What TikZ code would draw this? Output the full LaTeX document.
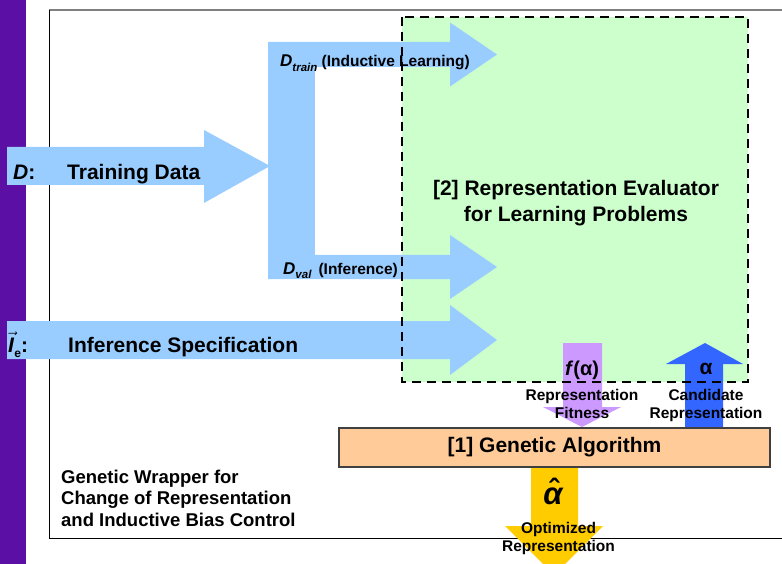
\documentclass[tikz,border=0pt]{standalone}
\usepackage{fontspec}
\setmainfont{Liberation Sans}

\definecolor{sidebar}{HTML}{5B0FA5}
\definecolor{datablue}{HTML}{99CCFF}
\definecolor{evalgreen}{HTML}{CCFFCC}
\definecolor{gapeach}{HTML}{FFCC99}
\definecolor{fitlilac}{HTML}{CC99FF}
\definecolor{candblue}{HTML}{3366FF}
\definecolor{optyellow}{HTML}{FFCC00}
\definecolor{boxedge}{HTML}{404040}

\newcommand{\dsub}[1]{{\fontsize{17}{17}\selectfont\textit{D}}\raisebox{-4.5pt}{\fontsize{11.5}{12}\selectfont\textit{#1}}}

\begin{document}
\begin{tikzpicture}[x=1pt,y=-1pt,
  bigtxt/.style={inner sep=0pt, font=\fontsize{21}{26}\selectfont\bfseries},
  lbltxt/.style={inner sep=0pt, align=center, font=\fontsize{15.5}{18}\selectfont\bfseries},
  wraptxt/.style={inner sep=0pt, align=left, font=\fontsize{18.5}{21.5}\selectfont\bfseries}]

\useasboundingbox (0,0) rectangle (782,564);
\clip (0,0) rectangle (782,564);

\def \headx{450}
\def \tipx{497}

\fill [sidebar] (0,0) rectangle (26,564);

\draw [gray, line width=1.3pt] (49,10) -- (782,10);
\draw [line width=0.9pt] (49,10) -- (49,538) -- (782,538);

\fill [evalgreen] (402,17) rectangle (748,382);

\fill [datablue] (7,147) -- (204,147) -- (204,130) -- (270,166) -- (204,203) -- (204,185) -- (7,185) -- cycle;
\fill [datablue] (268,42) rectangle (315,279);

\foreach \xs/\yc/\hb/\hh in {268/54.5/12.5/32, 268/267/12/32, 7/340/19/35}
{
	\fill [datablue] (\xs,\yc-\hb) -- (\headx,\yc-\hb) -- (\headx,\yc-\hh) -- (\tipx,\yc) -- (\headx,\yc+\hh) -- (\headx,\yc+\hb) -- (\xs,\yc+\hb) -- cycle;
}

\fill [fitlilac] (563,343) -- (602,343) -- (602,407) -- (621,407) -- (582,427) -- (543,407) -- (563,407) -- cycle;
\fill [candblue] (685,428) -- (685,364) -- (666,364) -- (705,343) -- (743,364) -- (723,364) -- (723,428) -- cycle;
\fill [optyellow] (531,467) -- (578,467) -- (578,526) -- (603,526) -- (554,575) -- (505,526) -- (531,526) -- cycle;

\draw [line width=2.2pt, dash pattern=on 9pt off 6pt] (402,17) rectangle (748,382);

\node [draw=boxedge, line width=1.5pt, fill=gapeach, minimum width=431pt, minimum height=39pt, inner sep=0pt, font=\fontsize{21}{26}\selectfont\bfseries] (ga) at (554.5,447.5) {[1] Genetic Algorithm};

\node [bigtxt, anchor=base west] (dlabel) at (13,179.5) {\textit{D}:};
\node [bigtxt, anchor=base west] (traindata) at (67,179.5) {Training Data};
\node [bigtxt, anchor=base west] (ielabel) at (8,352.5) {$\vec{\mbox{\textit{I}}}$\raisebox{-4.5pt}{\fontsize{12}{12}\selectfont e}:};
\node [bigtxt, anchor=base west] (infspec) at (68,352.5) {Inference Specification};
\node [bigtxt, align=center, anchor=north] (evaluator) at (576,180) {[2] Representation Evaluator\\for Learning Problems};

\node [lbltxt, anchor=base west] (trainlabel) at (280,67) {\dsub{train} (Inductive Learning)};
\node [lbltxt, anchor=base west] (vallabel) at (283,274) {\dsub{val}\ \,(Inference)};

\node [inner sep=0pt, anchor=base, font=\fontsize{20}{20}\selectfont\bfseries] (fitsym) at (582,375) {\textit{f}(α)};
\node [inner sep=0pt, anchor=base, font=\fontsize{21}{21}\selectfont\bfseries] (candsym) at (706,374) {α};
\node [lbltxt, anchor=north] (fitlabel) at (582,389) {Representation\\Fitness};
\node [lbltxt, anchor=north] (candlabel) at (706,389) {Candidate\\Representation};

\node [inner sep=0pt, anchor=base, font=\fontsize{31}{31}\selectfont\bfseries\itshape] (optsym) at (553,504) {α};
\node [inner sep=0pt, anchor=base, font=\fontsize{30}{30}\selectfont\bfseries] (opthat) at (554,500) {ˆ};
\node [lbltxt, anchor=north] (optlabel) at (558.5,522) {Optimized\\Representation};

\node [wraptxt, anchor=north west] (wrapper) at (61,469.5) {Genetic Wrapper for\\Change of Representation\\and Inductive Bias Control};
\end{tikzpicture}
\end{document}
